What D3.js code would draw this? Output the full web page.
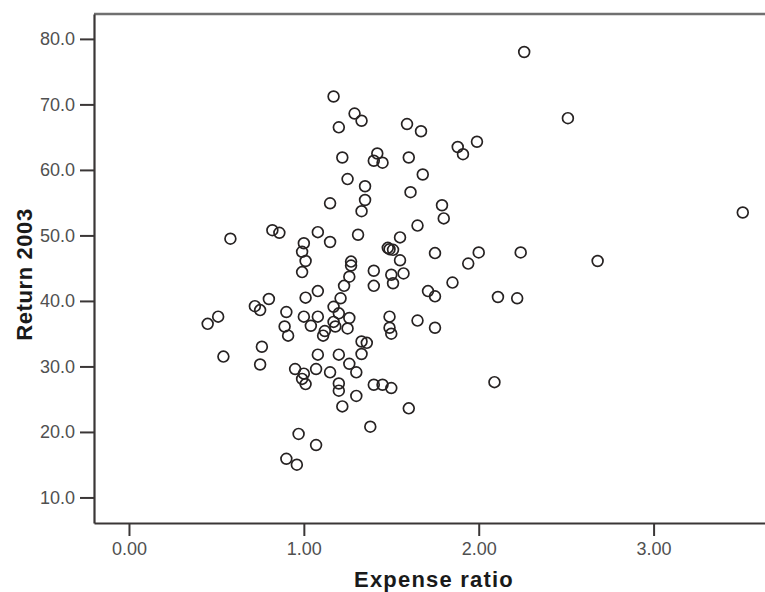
<!DOCTYPE html>
<html>
<head>
<meta charset="utf-8">
<script src="https://cdn.jsdelivr.net/npm/d3@7"></script>
<style>
  body { margin: 0; background: #fff; }
  svg { display: block; }
</style>
</head>
<body>
<svg id="chart" width="765" height="592"></svg>
<script>
// Expense ratio (x) and Return 2003 (y), one entry per fund
const expenseRatio = [
  2.26, 2.51, 1.17, 1.29, 1.33, 1.20, 1.59, 1.67, 1.88, 1.99,
  1.91, 1.22, 1.42, 1.40, 1.45, 1.60, 1.68, 1.25, 1.35, 1.35,
  1.33, 1.61, 1.15, 1.79, 1.80, 1.65, 3.51, 0.58, 0.82, 0.86,
  1.08, 1.15, 1.31, 1.55, 1.00, 0.99, 1.01, 0.99, 1.48, 1.49,
  1.51, 1.55, 1.75, 2.00, 2.24, 1.94, 1.27, 1.27, 1.26, 1.23,
  1.40, 1.40, 1.50, 1.51, 1.57, 1.85, 2.68, 1.71, 1.75, 2.11,
  2.22, 1.21, 1.08, 1.01, 0.80, 0.72, 0.75, 0.90, 1.00, 1.08,
  1.17, 1.20, 1.26, 1.17, 1.18, 1.25, 1.12, 1.11, 1.04, 0.89,
  0.91, 1.49, 1.49, 1.50, 1.65, 1.75, 0.45, 0.51, 0.76, 0.75,
  0.54, 1.08, 1.20, 1.33, 1.36, 1.33, 1.26, 1.30, 0.95, 1.00,
  0.99, 1.01, 1.07, 1.15, 1.20, 1.20, 1.30, 1.22, 1.40, 1.45,
  1.50, 1.60, 1.38, 2.09, 0.97, 1.07, 0.90, 0.96
]
const return2003 = [
  78.0, 67.9, 71.2, 68.6, 67.5, 66.5, 67.0, 65.9, 63.5, 64.3,
  62.4, 61.9, 62.5, 61.4, 61.1, 61.9, 59.3, 58.6, 57.5, 55.4,
  53.7, 56.6, 54.9, 54.6, 52.6, 51.5, 53.5, 49.5, 50.8, 50.4,
  50.5, 49.0, 50.1, 49.7, 48.8, 47.5, 46.1, 44.4, 48.1, 47.9,
  47.8, 46.2, 47.3, 47.4, 47.4, 45.7, 46.0, 45.4, 43.7, 42.3,
  44.6, 42.3, 44.0, 42.7, 44.2, 42.8, 46.1, 41.5, 40.7, 40.6,
  40.4, 40.4, 41.5, 40.5, 40.3, 39.2, 38.6, 38.3, 37.6, 37.6,
  39.1, 38.1, 37.4, 36.8, 36.1, 35.8, 35.4, 34.7, 36.2, 36.1,
  34.7, 37.6, 35.9, 35.0, 37.0, 35.9, 36.5, 37.6, 33.0, 30.3,
  31.5, 31.8, 31.8, 33.8, 33.6, 31.9, 30.4, 29.1, 29.6, 28.9,
  28.1, 27.3, 29.6, 29.1, 27.4, 26.3, 25.5, 23.9, 27.2, 27.2,
  26.7, 23.6, 20.8, 27.6, 19.7, 18.0, 15.9, 15.0
]

const xTicks = [0, 1, 2, 3]
const yTicks = [10, 20, 30, 40, 50, 60, 70, 80]

const xTitle = 'Expense ratio'
const yTitle = 'Return 2003'

const width = 765
const height = 592
const plotLeft = 94
const plotRight = 776
const plotTop = 14
const plotBottom = 523

const svg = d3.select('#chart')

const points = expenseRatio.map((d, i) => ({ x: d, y: return2003[i] }))

// Scales
const x = d3.scaleLinear().domain([-0.2, 3.7]).range([plotLeft, plotRight])
const y = d3.scaleLinear().domain([6.1, 83.8]).range([plotBottom, plotTop])

// Top frame line
svg.append('line')
  .attr('x1', plotLeft).attr('x2', width)
  .attr('y1', plotTop).attr('y2', plotTop)
  .attr('stroke', '#707070')
  .attr('stroke-width', 2.5)

// Axes
const xAxis = svg.append('g')
  .attr('transform', `translate(0,${plotBottom})`)
  .call(d3.axisBottom(x).tickValues(xTicks).tickFormat(d3.format('.2f'))
    .tickSize(13).tickSizeOuter(0).tickPadding(6))

const yAxis = svg.append('g')
  .attr('transform', `translate(${plotLeft},0)`)
  .call(d3.axisLeft(y).tickValues(yTicks).tickFormat(d3.format('.1f'))
    .tickSize(14).tickSizeOuter(0).tickPadding(5))

svg.selectAll('.domain')
  .attr('stroke', '#3a3636')
  .attr('stroke-width', 2.2)
svg.selectAll('.tick line')
  .attr('stroke', '#3a3636')
  .attr('stroke-width', 2)
svg.selectAll('.tick text')
  .attr('fill', '#505050')
  .style('font-family', 'Liberation Sans, Arial, sans-serif')
  .style('font-size', '18px')

// Points
svg.append('g').selectAll('circle').data(points)
  .join('circle')
  .attr('cx', d => x(d.x))
  .attr('cy', d => y(d.y))
  .attr('r', 5.4)
  .attr('fill', 'none')
  .attr('stroke', '#262222')
  .attr('stroke-width', 1.7)

// Axis titles
svg.append('text')
  .attr('x', 434)
  .attr('y', 587)
  .attr('text-anchor', 'middle')
  .style('font-family', 'Liberation Sans, Arial, sans-serif')
  .style('font-weight', 'bold')
  .style('font-size', '22px')
  .style('letter-spacing', '1.2px')
  .attr('fill', '#1a1a1a')
  .text(xTitle)

svg.append('text')
  .attr('transform', `translate(32,${(plotTop + plotBottom) / 2 + 6}) rotate(-90)`)
  .attr('text-anchor', 'middle')
  .style('font-family', 'Liberation Sans, Arial, sans-serif')
  .style('font-weight', 'bold')
  .style('font-size', '22px')
  .style('letter-spacing', '0.6px')
  .attr('fill', '#1a1a1a')
  .text(yTitle)
</script>
</body>
</html>
